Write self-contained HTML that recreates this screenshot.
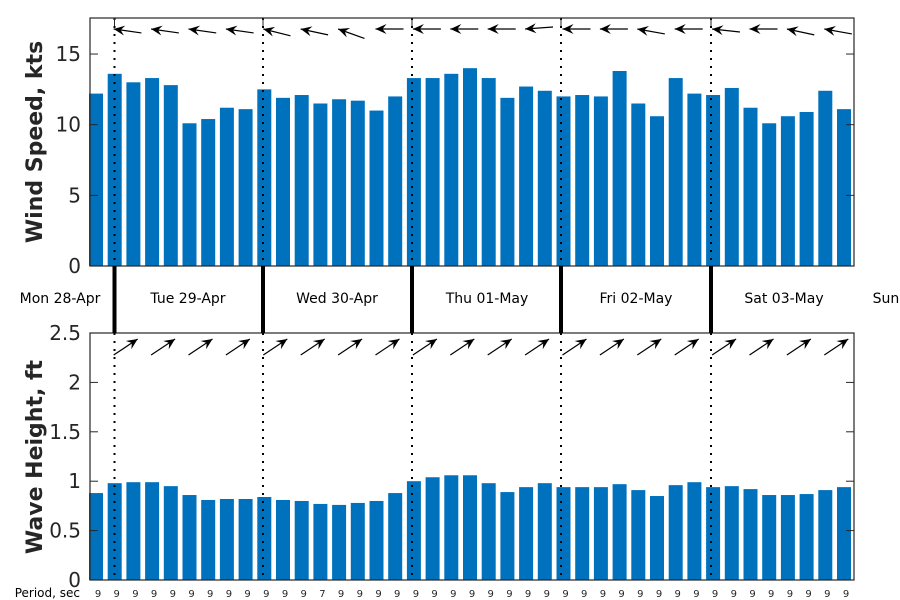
<!DOCTYPE html>
<html><head><meta charset="utf-8"><style>
body{margin:0;background:#fff;width:900px;height:600px;overflow:hidden}
svg{display:block;font-family:"DejaVu Sans","Liberation Sans",sans-serif}
</style></head><body>
<svg id="chart" width="900" height="600" viewBox="0 0 900 600" xmlns="http://www.w3.org/2000/svg"></svg>
<script>
const windSpeed=[12.2,13.6,13.0,13.3,12.8,10.1,10.4,11.2,11.1,12.5,11.9,12.1,11.5,11.8,11.7,11.0,12.0,13.3,13.3,13.6,14.0,13.3,11.9,12.7,12.4,12.0,12.1,12.0,13.8,11.5,10.6,13.3,12.2,12.1,12.6,11.2,10.1,10.6,10.9,12.4,11.1];
const waveHeight=[0.88,0.98,0.99,0.99,0.95,0.86,0.81,0.82,0.82,0.84,0.81,0.80,0.77,0.76,0.78,0.80,0.88,1.00,1.04,1.06,1.06,0.98,0.89,0.94,0.98,0.94,0.94,0.94,0.97,0.91,0.85,0.96,0.99,0.94,0.95,0.92,0.86,0.86,0.87,0.91,0.94];
const periods=[9,9,9,9,9,9,9,9,9,9,9,9,7,9,9,9,9,9,9,9,9,9,9,9,9,9,9,9,9,9,9,9,9,9,9,9,9,9,9,9,9];
const windArrowSlope=[4,4,4,4,7,6,10,0,0,0,0,-2,0,0,5,0,3,0,6,5];
const dayLabels=["Mon 28-Apr","Tue 29-Apr","Wed 30-Apr","Thu 01-May","Fri 02-May","Sat 03-May","Sun"];
const windTicks=[0,5,10,15];
const waveTicks=[0,0.5,1,1.5,2,2.5];

const NS="http://www.w3.org/2000/svg";
const svg=document.getElementById('chart');
function mk(tag,attrs,parent){const e=document.createElementNS(NS,tag);for(const k in attrs)e.setAttribute(k,attrs[k]);(parent||svg).appendChild(e);return e;}
const L=90,R=854;
const x=i=>96+18.7*i;           // bar index -> px (3h steps)
const yTop=v=>266-v*(248/17.55);
const yBot=v=>580-v*(247/2.5);
const bw=14;

// bars
windSpeed.forEach((v,i)=>{const r=mk('rect',{x:x(i)-bw/2,y:yTop(v),width:bw,height:266-yTop(v),fill:'#0072BD'});

});
waveHeight.forEach((v,i)=>{const r=mk('rect',{x:x(i)-bw/2,y:yBot(v),width:bw,height:580-yBot(v),fill:'#0072BD'});

});

// axes boxes
const a1=mk('rect',{x:L,y:18,width:R-L,height:248,fill:'none',stroke:'#262626','stroke-width':1.2});


const a2=mk('rect',{x:L,y:333,width:R-L,height:247,fill:'none',stroke:'#262626','stroke-width':1.2});



// y ticks
windTicks.forEach(t=>{const y=yTop(t);mk('line',{x1:L,x2:L+8,y1:y,y2:y,stroke:'#262626'});mk('line',{x1:R,x2:R-8,y1:y,y2:y,stroke:'#262626'});
const tx=mk('text',{x:L-9,y:y+7,'text-anchor':'end','font-size':20,fill:'#262626'});tx.textContent=t;

});
waveTicks.forEach(t=>{const y=yBot(t);mk('line',{x1:L,x2:L+8,y1:y,y2:y,stroke:'#262626'});mk('line',{x1:R,x2:R-8,y1:y,y2:y,stroke:'#262626'});
const tx=mk('text',{x:L-9,y:y+7,'text-anchor':'end','font-size':20,fill:'#262626'});tx.textContent=t;

});

// day boundaries (bars 1,9,17,25,33)
const bx=[114.5,263,412,561,711];
bx.forEach(b=>{
 mk('line',{x1:b,x2:b,y1:18,y2:266,stroke:'#000','stroke-width':2,'stroke-dasharray':'2,6'});
 mk('line',{x1:b,x2:b,y1:333,y2:580,stroke:'#000','stroke-width':2,'stroke-dasharray':'2,6'});
 mk('line',{x1:b,x2:b,y1:18,y2:26,stroke:'#262626'});
 const s=mk('line',{x1:b,x2:b,y1:266,y2:333,stroke:'#000','stroke-width':4});
 
 
});
const dx=[60,188,337,487,636,784,886];
dayLabels.forEach((d,i)=>{const t=mk('text',{x:dx[i],y:303,'text-anchor':'middle','font-size':14,fill:'#000'});t.textContent=d;

});

// wind arrows
windArrowSlope.forEach((s,k)=>{const i=1+2*k;const hx=x(i)-1,hy=29;const len=28;const ang=Math.atan2(s,len);
const tx=hx+len*Math.cos(ang),ty=hy+len*Math.sin(ang);
const g=mk('g',{});


mk('line',{x1:hx,y1:hy,x2:tx,y2:ty,stroke:'#000','stroke-width':1.2},g);
const c=Math.cos(ang),sn=Math.sin(ang);
const p=(a,b)=>(hx+a*c-b*sn)+','+(hy+a*sn+b*c);
mk('polygon',{points:[p(0,0),p(11,-5),p(7,0),p(11,5)].join(' '),fill:'#000'},g);});

// wave arrows
for(let k=0;k<20;k++){const i=1+2*k;const sx=x(i)-1,sy=355;const ex=sx+24,ey=339;
const g=mk('g',{});


mk('line',{x1:sx,y1:sy,x2:ex,y2:ey,stroke:'#000','stroke-width':1.2},g);
const ang=Math.atan2(sy-ey,sx-ex),c=Math.cos(ang),sn=Math.sin(ang);
const p=(a,b)=>(ex+a*c-b*sn)+','+(ey+a*sn+b*c);
mk('polygon',{points:[p(0,0),p(11,-5),p(7,0),p(11,5)].join(' '),fill:'#000'},g);}

// periods
periods.forEach((p,i)=>{const t=mk('text',{x:x(i)+2,y:597,'text-anchor':'middle','font-size':10,fill:'#262626'});t.textContent=p;

});
const pl=mk('text',{x:80,y:597,'text-anchor':'end','font-size':12,fill:'#000'});pl.textContent='Period, sec';



// titles
const t1=mk('text',{x:0,y:0,transform:'translate(42,142) rotate(-90)','text-anchor':'middle','font-size':22,'font-weight':'bold',fill:'#262626'});t1.textContent='Wind Speed, kts';


const t2=mk('text',{x:0,y:0,transform:'translate(42,457) rotate(-90)','text-anchor':'middle','font-size':22,'font-weight':'bold',fill:'#262626'});t2.textContent='Wave Height, ft';


</script>
</body></html>
